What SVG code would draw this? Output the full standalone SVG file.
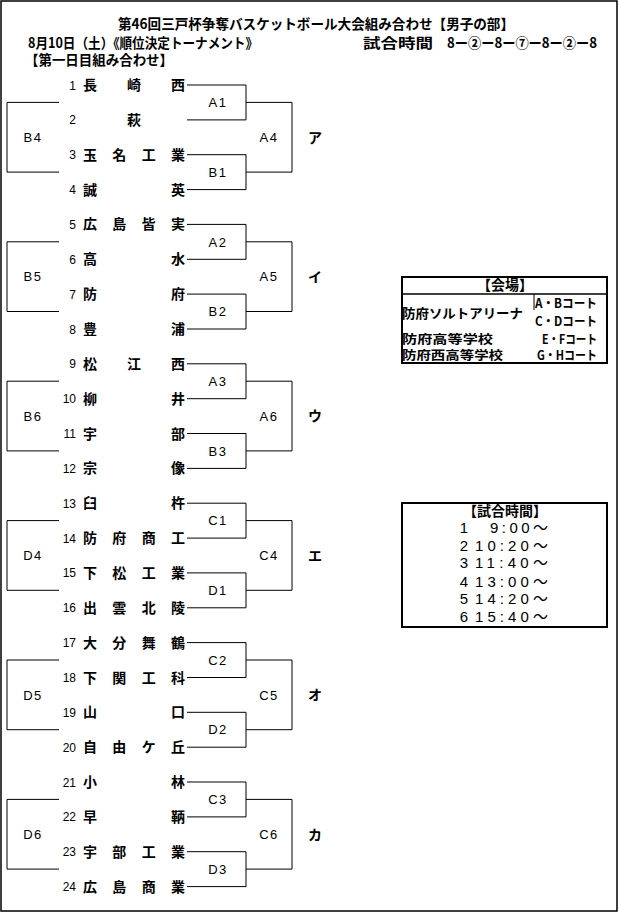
<svg xmlns="http://www.w3.org/2000/svg" width="619" height="913" viewBox="0 0 619 913">
<style>
.jp{font-family:"Noto Sans CJK JP","Liberation Sans",sans-serif;font-weight:bold;fill:#000}
.tm{font-family:"Noto Sans CJK JP",sans-serif;font-weight:bold;font-size:14px;fill:#000}
.num{font-family:"Liberation Sans",sans-serif;font-size:12px;text-anchor:end;fill:#000}
.lb{font-family:"Liberation Sans",sans-serif;font-size:13px;letter-spacing:1.5px;text-anchor:middle;fill:#000}
.kn{font-family:"Noto Sans CJK JP",sans-serif;font-weight:bold;font-size:14px;text-anchor:middle;fill:#000}
.ln{fill:none;stroke:#000;stroke-width:1}
.tt{font-family:"Liberation Sans","Noto Sans CJK JP",sans-serif;font-size:15px;fill:#000}
</style>
<rect x="0" y="0" width="619" height="913" fill="#fff"/>
<rect x="1" y="1" width="616" height="910" fill="none" stroke="#000" stroke-width="1.5"/>
<g id="header">
<text class="jp" x="118" y="29" font-size="14" textLength="396" lengthAdjust="spacingAndGlyphs">第46回三戸杯争奪バスケットボール大会組み合わせ【男子の部】</text>
<text class="jp" x="28" y="48" font-size="14" textLength="230" lengthAdjust="spacingAndGlyphs">8月10日（土）《順位決定トーナメント》</text>
<text class="jp" x="363" y="48" font-size="14" textLength="70" lengthAdjust="spacingAndGlyphs">試合時間</text>
<text class="jp" x="447" y="48" font-size="14" textLength="150" lengthAdjust="spacingAndGlyphs">8ー②ー8ー⑦ー8ー②ー8</text>
<text class="jp" x="25" y="65" font-size="14" textLength="148" lengthAdjust="spacingAndGlyphs">【第一日目組み合わせ】</text>
</g>
<g id="connectors">
<path class="ln" d="M187 85H246V119.9H187M187 154.7H246V189.6H187M246 102.4H292V172.1H246M59 102.4H7V172.1H59"/>
<path class="ln" d="M187 224.4H246V259.3H187M187 294.1H246V329H187M246 241.8H292V311.5H246M59 241.8H7V311.5H59"/>
<path class="ln" d="M187 363.8H246V398.7H187M187 433.5H246V468.4H187M246 381.2H292V450.9H246M59 381.2H7V450.9H59"/>
<path class="ln" d="M187 503.2H246V538.1H187M187 572.9H246V607.8H187M246 520.6H292V590.3H246M59 520.6H7V590.3H59"/>
<path class="ln" d="M187 642.6H246V677.5H187M187 712.3H246V747.2H187M246 660H292V729.7H246M59 660H7V729.7H59"/>
<path class="ln" d="M187 782H246V816.9H187M187 851.7H246V886.6H187M246 799.4H292V869.1H246M59 799.4H7V869.1H59"/>
</g>
<g id="teams">
<text class="num" x="76" y="89.5">1</text><text class="tm" x="83 127 171" y="90">長崎西</text>
<text class="num" x="76" y="124.4">2</text><text class="tm" x="127" y="124.9">萩</text>
<text class="num" x="76" y="159.2">3</text><text class="tm" x="83 112.3 141.7 171" y="159.7">玉名工業</text>
<text class="num" x="76" y="194.1">4</text><text class="tm" x="83 171" y="194.6">誠英</text>
<text class="num" x="76" y="228.9">5</text><text class="tm" x="83 112.3 141.7 171" y="229.4">広島皆実</text>
<text class="num" x="76" y="263.8">6</text><text class="tm" x="83 171" y="264.3">高水</text>
<text class="num" x="76" y="298.6">7</text><text class="tm" x="83 171" y="299.1">防府</text>
<text class="num" x="76" y="333.5">8</text><text class="tm" x="83 171" y="334">豊浦</text>
<text class="num" x="76" y="368.3">9</text><text class="tm" x="83 127 171" y="368.8">松江西</text>
<text class="num" x="76" y="403.2">10</text><text class="tm" x="83 171" y="403.7">柳井</text>
<text class="num" x="76" y="438">11</text><text class="tm" x="83 171" y="438.5">宇部</text>
<text class="num" x="76" y="472.9">12</text><text class="tm" x="83 171" y="473.4">宗像</text>
<text class="num" x="76" y="507.7">13</text><text class="tm" x="83 171" y="508.2">臼杵</text>
<text class="num" x="76" y="542.6">14</text><text class="tm" x="83 112.3 141.7 171" y="543.1">防府商工</text>
<text class="num" x="76" y="577.4">15</text><text class="tm" x="83 112.3 141.7 171" y="577.9">下松工業</text>
<text class="num" x="76" y="612.3">16</text><text class="tm" x="83 112.3 141.7 171" y="612.8">出雲北陵</text>
<text class="num" x="76" y="647.1">17</text><text class="tm" x="83 112.3 141.7 171" y="647.6">大分舞鶴</text>
<text class="num" x="76" y="682">18</text><text class="tm" x="83 112.3 141.7 171" y="682.5">下関工科</text>
<text class="num" x="76" y="716.8">19</text><text class="tm" x="83 171" y="717.3">山口</text>
<text class="num" x="76" y="751.7">20</text><text class="tm" x="83 112.3 141.7 171" y="752.2">自由ケ丘</text>
<text class="num" x="76" y="786.5">21</text><text class="tm" x="83 171" y="787">小林</text>
<text class="num" x="76" y="821.4">22</text><text class="tm" x="83 171" y="821.9">早鞆</text>
<text class="num" x="76" y="856.2">23</text><text class="tm" x="83 112.3 141.7 171" y="856.7">宇部工業</text>
<text class="num" x="76" y="891.1">24</text><text class="tm" x="83 112.3 141.7 171" y="891.6">広島商業</text>
</g>
<g id="games">
<text class="lb" x="218" y="107">A1</text><text class="lb" x="218" y="176.8">B1</text><text class="lb" x="269" y="142">A4</text><text class="lb" x="33" y="142">B4</text><text class="kn" x="315" y="142.5">ア</text>
<text class="lb" x="218" y="246.5">A2</text><text class="lb" x="218" y="316.2">B2</text><text class="lb" x="269" y="281.4">A5</text><text class="lb" x="33" y="281.4">B5</text><text class="kn" x="315" y="281.9">イ</text>
<text class="lb" x="218" y="385.9">A3</text><text class="lb" x="218" y="455.6">B3</text><text class="lb" x="269" y="420.8">A6</text><text class="lb" x="33" y="420.8">B6</text><text class="kn" x="315" y="421.3">ウ</text>
<text class="lb" x="218" y="525.3">C1</text><text class="lb" x="218" y="595">D1</text><text class="lb" x="269" y="560.2">C4</text><text class="lb" x="33" y="560.2">D4</text><text class="kn" x="315" y="560.7">エ</text>
<text class="lb" x="218" y="664.7">C2</text><text class="lb" x="218" y="734.4">D2</text><text class="lb" x="269" y="699.6">C5</text><text class="lb" x="33" y="699.6">D5</text><text class="kn" x="315" y="700.1">オ</text>
<text class="lb" x="218" y="804.1">C3</text><text class="lb" x="218" y="873.8">D3</text><text class="lb" x="269" y="839">C6</text><text class="lb" x="33" y="839">D6</text><text class="kn" x="315" y="839.5">カ</text>
</g>
<g id="venue">
<rect x="402" y="277" width="205" height="86" fill="none" stroke="#000" stroke-width="2"/>
<line x1="402" y1="294" x2="607" y2="294" stroke="#000" stroke-width="1.5"/>
<line x1="534" y1="294" x2="534" y2="310" stroke="#000" stroke-width="1"/>
<text class="kn" x="505" y="290">【会場】</text>
<text class="jp" x="402" y="318" font-size="13" textLength="121" lengthAdjust="spacingAndGlyphs">防府ソルトアリーナ</text>
<text class="jp" x="535" y="308" font-size="12.5" textLength="62" lengthAdjust="spacingAndGlyphs">A・Bコート</text>
<text class="jp" x="535" y="326" font-size="12.5" textLength="62" lengthAdjust="spacingAndGlyphs">C・Dコート</text>
<text class="jp" x="402" y="344" font-size="12.5" textLength="91" lengthAdjust="spacingAndGlyphs">防府高等学校</text>
<text class="jp" x="542" y="344" font-size="12.5" textLength="55" lengthAdjust="spacingAndGlyphs">E・Fコート</text>
<text class="jp" x="402" y="360" font-size="12.5" textLength="101" lengthAdjust="spacingAndGlyphs">防府西高等学校</text>
<text class="jp" x="537" y="360" font-size="12.5" textLength="60" lengthAdjust="spacingAndGlyphs">G・Hコート</text>
</g>
<g id="times">
<rect x="402" y="503" width="205" height="124" fill="none" stroke="#000" stroke-width="2"/>
<text class="kn" x="505" y="516">【試合時間】</text>
<text class="tt" x="464" y="533" text-anchor="middle">1</text><text class="tt" x="490" y="533" textLength="58" lengthAdjust="spacing">9:00～</text>
<text class="tt" x="464" y="551" text-anchor="middle">2</text><text class="tt" x="475" y="551" textLength="73" lengthAdjust="spacing">10:20～</text>
<text class="tt" x="464" y="568" text-anchor="middle">3</text><text class="tt" x="475" y="568" textLength="73" lengthAdjust="spacing">11:40～</text>
<text class="tt" x="464" y="587" text-anchor="middle">4</text><text class="tt" x="475" y="587" textLength="73" lengthAdjust="spacing">13:00～</text>
<text class="tt" x="464" y="604" text-anchor="middle">5</text><text class="tt" x="475" y="604" textLength="73" lengthAdjust="spacing">14:20～</text>
<text class="tt" x="464" y="622" text-anchor="middle">6</text><text class="tt" x="475" y="622" textLength="73" lengthAdjust="spacing">15:40～</text>
</g>
</svg>
